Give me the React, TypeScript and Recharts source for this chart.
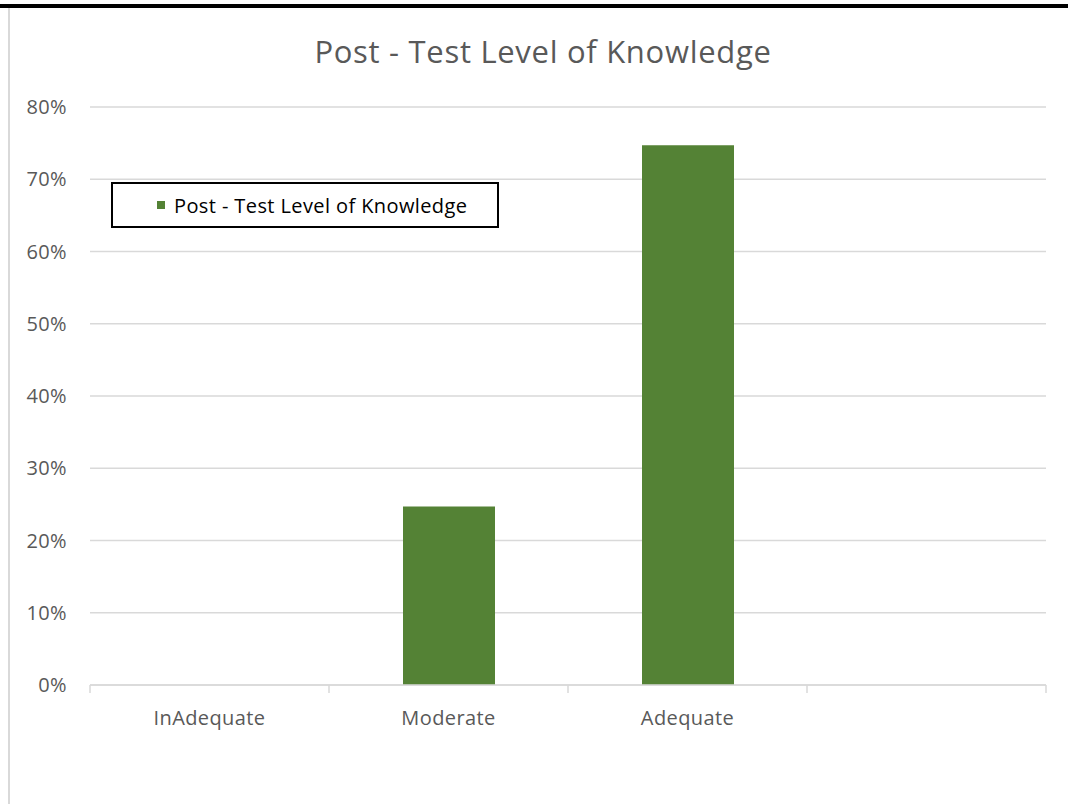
import React from "react";
import {
  BarChart,
  Bar,
  XAxis,
  YAxis,
  CartesianGrid,
  Legend,
} from "recharts";

const categories = ["InAdequate", "Moderate", "Adequate", ""];
const postTest = [0, 24.7, 74.7, 0];
const yTicks = [0, 10, 20, 30, 40, 50, 60, 70, 80];
const seriesName = "Post - Test Level of Knowledge";

const data = categories.map((name, i) => ({
  name,
  value: postTest[i] > 0 ? postTest[i] : null,
}));

const FONT = "'Open Sans', Lato, sans-serif";
const LABEL_GAP = 26;

const LegendBox = () => (
  <div
    style={{
      width: 384,
      height: 42,
      border: "2px solid #000",
      background: "#fff",
      display: "flex",
      alignItems: "center",
      fontFamily: FONT,
      fontSize: 20,
      letterSpacing: 0.4,
      color: "#000",
      boxSizing: "content-box",
      whiteSpace: "nowrap",
    }}
  >
    <span
      style={{
        display: "inline-block",
        width: 8,
        height: 8,
        background: "#548235",
        marginLeft: 44,
        marginRight: 9,
      }}
    />
    {seriesName}
  </div>
);

const tickStyle = {
  fill: "#595959",
  fontSize: 20,
  fontFamily: FONT,
  letterSpacing: 0.4,
};

// category label plus Excel-style tick marks on the band edges
const CatTick = (props: any) => {
  const { x, y, payload, index, visibleTicksCount } = props;
  const half = payload?.offset ?? 0;
  const axisY = y - LABEL_GAP;
  const isLast = index === visibleTicksCount - 1;
  return (
    <g>
      <line
        x1={x - half}
        x2={x - half}
        y1={axisY}
        y2={axisY + 8}
        stroke="#d9d9d9"
        strokeWidth={1.5}
      />
      {isLast && (
        <line
          x1={x + half}
          x2={x + half}
          y1={axisY}
          y2={axisY + 8}
          stroke="#d9d9d9"
          strokeWidth={1.5}
        />
      )}
      <text
        x={x}
        y={y}
        dy="0.71em"
        textAnchor="middle"
        style={tickStyle}
        fill="#595959"
      >
        {payload.value}
      </text>
    </g>
  );
};

const App = () => {
  return (
    <div
      style={{
        position: "absolute",
        left: 0,
        top: 0,
        width: 1068,
        height: 804,
        background: "#fff",
        overflow: "hidden",
      }}
    >
      <div
        style={{
          position: "absolute",
          left: 0,
          top: 4,
          width: 1068,
          height: 4,
          background: "#000",
        }}
      />
      <div
        style={{
          position: "absolute",
          left: 8,
          top: 8,
          width: 2,
          height: 796,
          background: "#d9d9d9",
        }}
      />
      <div
        style={{
          position: "absolute",
          left: 0,
          top: 30,
          width: 1086,
          textAlign: "center",
          fontFamily: FONT,
          fontSize: 31,
          letterSpacing: 0.7,
          color: "#595959",
        }}
      >
        {seriesName}
      </div>
      <div style={{ position: "absolute", left: 0, top: 0 }}>
        <BarChart
          width={1068}
          height={804}
          data={data}
          margin={{ top: 107, right: 22, left: 0, bottom: 81 }}
        >
          <CartesianGrid
            vertical={false}
            stroke="#d9d9d9"
            strokeWidth={1.5}
          />
          <XAxis
            dataKey="name"
            axisLine={{ stroke: "#d9d9d9", strokeWidth: 1.5 }}
            tickLine={false}
            tickSize={0}
            tickMargin={LABEL_GAP}
            height={38}
            interval={0}
            tick={<CatTick />}
          />
          <YAxis
            domain={[0, 80]}
            ticks={yTicks}
            width={90}
            axisLine={false}
            tickLine={false}
            tickSize={0}
            tickMargin={23}
            tickFormatter={(v: number) => `${v}%`}
            tick={tickStyle}
          />
          <Legend
            content={<LegendBox />}
            layout="horizontal"
            verticalAlign="middle"
            align="center"
            wrapperStyle={{ left: 111, top: 182, width: "auto" }}
          />
          <Bar
            dataKey="value"
            name={seriesName}
            fill="#548235"
            barSize={92}
            isAnimationActive={false}
          />
        </BarChart>
      </div>
    </div>
  );
};

export default App;
